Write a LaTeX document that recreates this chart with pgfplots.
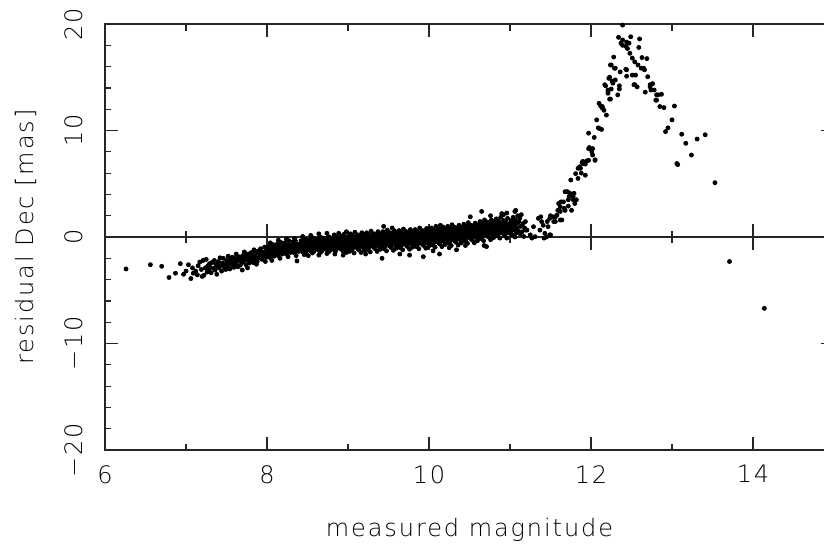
\documentclass[border=0pt]{standalone}
\usepackage{fontspec}
\setmainfont{DejaVu Sans}[UprightFont=* ExtraLight, LetterSpace=8]
\usepackage{pgfplots}
\pgfplotsset{compat=1.18}

\pgfplotsset{
  plotbase/.style={
    scale only axis, width=364.5pt, height=213pt,
    xmin=6, xmax=15, ymin=-20, ymax=20,
  },
}

\begin{document}
\begin{tikzpicture}
% zero line with ticks crossing it
\begin{axis}[plotbase,
  axis y line=none, axis x line=middle,
  x axis line style={-, line width=0.6pt, black!85},
  xtick={8,10,12,14}, minor xtick={7,9,11,13},
  xticklabels={}, ytick=\empty,
  tick align=center, major tick length=13pt, minor tick length=6pt,
  tick style={line width=0.6pt, black!85},
]
\addplot[draw=none] coordinates {(6,0) (15,0)};
\end{axis}

\begin{axis}[plotbase,
  xtick={6,8,10,12,14}, minor xtick={7,9,11,13},
  xticklabels={6,8,10,12,14},
  ytick={-20,-10,0,10,20}, minor ytick={-18,-16,...,18},
  yticklabels={−20,−10,0,10,20},
  /pgf/number format/assume math mode=true,
  tick align=inside, major tick length=6.5pt, minor tick length=3.25pt,
  tick style={line width=0.6pt, black!85},
  axis line style={line width=0.8pt, black!85},
  every tick label/.append style={font=\fontsize{12}{14}\selectfont, text=black},
  xticklabel style={anchor=north, inner sep=0pt}, xticklabel shift=7.5pt,
  yticklabel style={rotate=90, anchor=south, inner sep=0pt}, yticklabel shift=11pt,
  xlabel={measured magnitude}, ylabel={residual Dec [mas]},
  every axis x label/.style={at={(axis description cs:0.5,-0.2042)}, anchor=base,
    inner sep=0pt, font=\fontsize{12}{14}\selectfont, text=black},
  every axis y label/.style={at={(axis description cs:-0.0982,0.5)}, rotate=90,
    anchor=base, inner sep=0pt, font=\fontsize{12}{14}\selectfont, text=black},
]
\addplot[only marks, mark=*, mark size=1.0pt, mark options={fill=black, draw=none}] coordinates {
(6.26,-3.0) (6.56,-2.6) (6.70,-2.75) (6.79,-3.8) (6.87,-3.4) (6.93,-2.5) (6.97,-3.5)
(7.00,-3.2) (7.03,-2.6) (7.06,-3.9) (7.08,-2.9) (7.09,-3.4)
(7.12,-3.2) (7.14,-3.55) (7.15,-2.7) (7.17,-2.35) (7.19,-3.05) (7.20,-3.7)
(7.21,-2.2) (7.22,-3.6) (7.24,-2.9) (7.25,-2.1) (7.26,-3.3) (7.27,-2.7) (7.28,-3.1) (7.29,-2.5)
(7.30,-2.85) (7.31,-3.35) (7.32,-2.4) (7.34,-2.95) (7.35,-2.2) (7.36,-3.1) (7.37,-2.6) (7.38,-3.5) (7.39,-2.75)
(7.40,-2.3) (7.41,-2.9) (7.42,-1.95) (7.43,-2.65) (7.44,-3.2) (7.45,-2.45) (7.46,-2.0) (7.47,-2.8) (7.48,-2.55) (7.49,-3.05)
(7.50,-2.2) (7.51,-2.7) (7.52,-1.8) (7.53,-2.45) (7.54,-3.0) (7.55,-2.1) (7.56,-2.6) (7.57,-1.9) (7.58,-2.35) (7.59,-2.85) (7.595,-2.5)
(7.60,-2.0) (7.61,-2.55) (7.62,-1.6) (7.63,-2.3) (7.64,-2.8) (7.65,-1.85) (7.66,-2.15) (7.67,-2.65) (7.68,-1.95) (7.69,-2.4) (7.695,-3.1) (7.62,-2.1)
(7.70,-1.75) (7.71,-2.3) (7.72,-1.4) (7.73,-2.05) (7.74,-2.6) (7.75,-1.6) (7.76,-2.15) (7.77,-1.85) (7.78,-2.45) (7.79,-1.55) (7.72,-2.0) (7.76,-2.9) (7.74,-1.9)
(7.80,-2.1) (7.81,-1.45) (7.82,-1.9) (7.83,-2.4) (7.84,-1.2) (7.85,-1.75) (7.86,-2.2) (7.87,-2.56) (7.88,-1.5) (7.89,-1.95) (7.81,-1.7) (7.83,-2.05) (7.86,-1.35) (7.88,-2.3)
(7.90,-1.3) (7.91,-1.85) (7.92,-1.1) (7.93,-1.6) (7.94,-2.1) (7.95,-1.45) (7.96,-1.75) (7.97,-0.95) (7.98,-2.3) (7.99,-1.55) (7.91,-1.25) (7.93,-2.0) (7.95,-1.65) (7.97,-1.4) (7.99,-1.9)
(8.00,-1.2) (8.01,-1.7) (8.02,-0.9) (8.03,-1.45) (8.04,-1.95) (8.05,-1.1) (8.06,-1.55) (8.07,-0.7) (8.08,-1.35) (8.09,-1.8) (8.01,-1.3) (8.03,-1.0) (8.05,-1.65) (8.06,-2.2) (8.08,-1.15) (8.02,-1.5) (8.04,-0.55) (8.09,-1.4)
(8.10,-1.0) (8.11,-1.5) (8.12,-0.7) (8.13,-1.25) (8.14,-1.75) (8.15,-0.9) (8.16,-1.35) (8.17,-0.5) (8.18,-1.1) (8.19,-1.6) (8.11,-1.15) (8.13,-0.85) (8.15,-1.45) (8.16,-2.0) (8.18,-0.95) (8.12,-1.3) (8.14,-0.3) (8.19,-1.2) (8.17,-1.05)
(8.20,-0.85) (8.21,-1.3) (8.22,-0.55) (8.23,-1.1) (8.24,-1.6) (8.25,-0.75) (8.26,-1.2) (8.27,-0.35) (8.28,-0.95) (8.29,-1.45) (8.21,-1.0) (8.23,-0.7) (8.25,-1.3) (8.26,-1.85) (8.28,-0.8) (8.22,-1.15) (8.24,-0.2) (8.29,-1.05) (8.27,-0.9) (8.20,-1.5)
(8.30,-0.75) (8.31,-1.2) (8.32,-0.45) (8.33,-1.0) (8.34,-1.5) (8.35,-0.65) (8.36,-1.1) (8.37,-2.25) (8.38,-0.85) (8.39,-1.35) (8.31,-0.9) (8.33,-0.6) (8.35,-1.2) (8.36,-1.75) (8.38,-0.7) (8.32,-1.05) (8.34,-0.15) (8.39,-0.95) (8.37,-0.8) (8.30,-1.4) (8.35,-0.35)
(8.40,-0.65) (8.41,-1.1) (8.42,-0.35) (8.43,-0.9) (8.44,-1.4) (8.45,-0.55) (8.46,-1.0) (8.47,-0.2) (8.48,-0.75) (8.49,-1.25) (8.41,-0.8) (8.43,-0.5) (8.45,-1.1) (8.46,-1.65) (8.48,-0.6) (8.42,-0.95) (8.44,0.05) (8.49,-0.85) (8.47,-0.7) (8.40,-1.3) (8.45,-0.25) (8.43,-1.2) (8.48,-1.5)
(8.50,-0.55) (8.51,-1.75) (8.52,-0.25) (8.53,-0.8) (8.54,-1.3) (8.55,-0.45) (8.56,-0.9) (8.57,-0.1) (8.58,-0.65) (8.59,-1.15) (8.51,-0.7) (8.53,-0.4) (8.55,-1.0) (8.56,-1.5) (8.58,-0.5) (8.52,-0.85) (8.54,0.15) (8.59,-0.75) (8.57,-0.6) (8.50,-1.2) (8.55,-0.15) (8.53,-1.1) (8.58,-1.35) (8.56,-0.3) (8.51,-0.95)
(8.60,-0.5) (8.61,-0.95) (8.62,-0.2) (8.63,-0.75) (8.64,-1.25) (8.65,-0.4) (8.66,-0.85) (8.67,-0.05) (8.68,-0.6) (8.69,-1.1) (8.61,-0.65) (8.63,-0.35) (8.65,-0.95) (8.66,-1.45) (8.68,-0.45) (8.62,-0.8) (8.64,0.3) (8.69,-0.7) (8.67,-0.55) (8.60,-1.15) (8.65,-0.1) (8.63,-1.05) (8.68,-1.3) (8.66,-0.25) (8.61,-0.9) (8.64,-1.7)
(8.70,-0.45) (8.71,-0.9) (8.72,-0.15) (8.73,-0.7) (8.74,-1.2) (8.75,-0.35) (8.76,-0.8) (8.77,0.0) (8.78,-0.55) (8.79,-1.05) (8.71,-0.6) (8.73,-0.3) (8.75,-0.9) (8.76,-1.4) (8.78,-0.4) (8.72,-0.75) (8.74,0.35) (8.79,-0.65) (8.77,-0.5) (8.70,-1.1) (8.75,-0.05) (8.73,-1.0) (8.78,-1.25) (8.76,-0.2) (8.71,-0.85) (8.74,-1.55) (8.77,-0.95)
(8.80,-0.35) (8.805,-0.95) (8.81,-0.1) (8.815,-0.7) (8.82,-1.15) (8.825,-0.5) (8.83,0.2) (8.835,-0.8) (8.84,-0.45) (8.845,-1.35) (8.85,-0.6) (8.855,-0.2) (8.86,-0.9) (8.865,-0.05) (8.87,-0.55) (8.875,-1.05) (8.88,-0.3) (8.885,0.35) (8.89,-0.75) (8.895,-0.4) (8.812,-0.6) (8.838,-1.6) (8.852,-0.25) (8.868,-0.85) (8.882,-0.65) (8.898,-1.0) (8.826,-0.15) (8.848,0.05)
(8.90,-0.7) (8.905,-0.2) (8.91,-1.1) (8.915,-0.45) (8.92,0.1) (8.925,-0.85) (8.93,-0.35) (8.935,-1.3) (8.94,-1.7) (8.945,-0.6) (8.95,0.25) (8.955,-0.95) (8.96,-0.3) (8.965,-0.65) (8.97,-1.15) (8.975,-0.05) (8.98,0.5) (8.985,-0.5) (8.99,-0.8) (8.995,-0.25) (8.908,-0.55) (8.922,-1.0) (8.938,-0.1) (8.952,-0.75) (8.968,-0.4) (8.982,-1.45) (8.992,0.0) (8.918,-0.6)
(9.00,-0.3) (9.005,-0.85) (9.01,-0.05) (9.015,-0.6) (9.02,-1.1) (9.025,-0.4) (9.03,0.3) (9.035,-0.75) (9.04,-0.2) (9.045,-1.25) (9.05,-0.55) (9.055,0.1) (9.06,-0.9) (9.065,-0.35) (9.07,-0.65) (9.075,-1.5) (9.08,-0.15) (9.085,0.45) (9.09,-0.7) (9.095,-0.45) (9.012,-0.95) (9.028,-0.25) (9.042,-0.6) (9.058,-1.05) (9.072,0.0) (9.088,-0.8) (9.098,-0.3) (9.032,-0.5) (9.064,-0.1) (9.018,-1.35)
(9.10,-0.6) (9.105,-0.15) (9.11,-1.0) (9.115,-0.4) (9.12,0.2) (9.125,-0.7) (9.13,-0.25) (9.135,-1.2) (9.14,-0.5) (9.145,0.05) (9.15,-0.85) (9.155,-0.3) (9.16,-1.45) (9.165,-0.55) (9.17,0.4) (9.175,-0.75) (9.18,-0.1) (9.185,-0.95) (9.19,-0.35) (9.195,-0.65) (9.108,0.1) (9.122,-1.1) (9.138,-0.45) (9.152,-0.2) (9.168,-0.8) (9.182,0.25) (9.198,-1.25) (9.132,-0.6) (9.158,-0.05) (9.178,-0.5)
(9.20,-0.2) (9.205,-0.75) (9.21,0.1) (9.215,-0.5) (9.22,-1.05) (9.225,-0.3) (9.23,0.4) (9.235,-0.65) (9.24,-0.1) (9.245,-1.2) (9.25,-0.45) (9.255,0.2) (9.26,-0.85) (9.265,-0.25) (9.27,-0.55) (9.275,-1.4) (9.28,-0.05) (9.285,0.55) (9.29,-0.6) (9.295,-0.35) (9.212,-0.9) (9.228,-0.15) (9.242,-0.5) (9.258,-1.0) (9.272,0.05) (9.288,-0.7) (9.298,-0.2) (9.232,-0.4) (9.264,0.0) (9.218,-1.6)
(9.30,-0.5) (9.305,-0.05) (9.31,-0.9) (9.315,-0.3) (9.32,0.3) (9.325,-0.6) (9.33,-0.15) (9.335,-1.1) (9.34,-0.4) (9.345,0.15) (9.35,-0.75) (9.355,-0.2) (9.36,-1.35) (9.365,-0.45) (9.37,0.5) (9.375,-0.65) (9.38,0.0) (9.385,-0.85) (9.39,-0.25) (9.395,-0.55) (9.308,0.2) (9.322,-1.0) (9.338,-0.35) (9.352,-0.1) (9.368,-0.7) (9.382,0.35) (9.398,-1.15) (9.332,-0.5) (9.358,0.05) (9.378,-0.4)
(9.40,-0.1) (9.405,-0.65) (9.41,0.2) (9.415,-0.4) (9.42,-0.95) (9.425,-0.2) (9.43,0.5) (9.435,-0.55) (9.44,0.0) (9.445,-1.1) (9.45,-0.35) (9.455,0.3) (9.46,-0.75) (9.465,-0.15) (9.47,-0.45) (9.475,-1.3) (9.48,0.05) (9.485,0.65) (9.49,-0.5) (9.495,-0.25) (9.412,-0.8) (9.428,-0.05) (9.442,-0.4) (9.458,-0.9) (9.472,0.15) (9.488,-0.6) (9.498,-0.1) (9.432,-0.3) (9.464,0.1) (9.44,1.0) (9.42,-2.0)
(9.50,-0.4) (9.505,0.05) (9.51,-0.8) (9.515,-0.2) (9.52,0.4) (9.525,-0.5) (9.53,-0.05) (9.535,-1.0) (9.54,-0.3) (9.545,0.25) (9.55,-0.65) (9.555,-0.1) (9.56,-1.25) (9.565,-0.35) (9.57,0.6) (9.575,-0.55) (9.58,0.1) (9.585,-0.75) (9.59,-0.15) (9.595,-0.45) (9.508,0.3) (9.522,-0.9) (9.538,-0.25) (9.552,0.0) (9.568,-0.6) (9.582,0.45) (9.598,-1.05) (9.532,-0.4) (9.558,0.15) (9.578,-0.3) (9.545,0.85)
(9.60,0.0) (9.605,-0.55) (9.61,0.3) (9.615,-0.3) (9.62,-0.85) (9.625,-0.1) (9.63,0.6) (9.635,-0.45) (9.64,0.1) (9.645,-1.0) (9.65,-0.25) (9.655,0.4) (9.66,-0.65) (9.665,-0.05) (9.67,-0.35) (9.675,-1.2) (9.68,0.15) (9.685,0.75) (9.69,-0.4) (9.695,-0.15) (9.612,-0.7) (9.628,0.05) (9.642,-0.3) (9.658,-0.8) (9.672,0.25) (9.688,-0.5) (9.698,0.0) (9.632,-0.2) (9.664,0.2) (9.64,-1.6)
(9.70,-0.3) (9.705,0.15) (9.71,-0.7) (9.715,-0.1) (9.72,0.5) (9.725,-0.4) (9.73,0.05) (9.735,-0.9) (9.74,-0.2) (9.745,0.35) (9.75,-0.55) (9.755,0.0) (9.76,-1.15) (9.765,-0.25) (9.77,0.7) (9.775,-0.45) (9.78,0.2) (9.785,-0.65) (9.79,-0.05) (9.795,-0.35) (9.708,0.4) (9.722,-0.8) (9.738,-0.15) (9.752,0.1) (9.768,-0.5) (9.782,0.55) (9.798,-0.95) (9.732,-0.3) (9.758,0.25) (9.778,-0.2) (9.76,-1.7)
(9.80,0.1) (9.805,-0.45) (9.81,0.4) (9.815,-0.2) (9.82,-0.75) (9.825,0.0) (9.83,0.7) (9.835,-0.35) (9.84,0.2) (9.845,-0.9) (9.85,-0.15) (9.855,0.5) (9.86,-0.55) (9.865,0.05) (9.87,-0.25) (9.875,-1.1) (9.88,0.25) (9.885,0.85) (9.89,-0.3) (9.895,-0.05) (9.812,-0.6) (9.828,0.15) (9.842,-0.2) (9.858,-0.7) (9.872,0.35) (9.888,-0.4) (9.898,0.1) (9.832,-0.1) (9.864,0.3)
(9.90,-0.2) (9.905,0.25) (9.91,-0.6) (9.915,0.0) (9.92,0.6) (9.925,-0.3) (9.93,0.15) (9.935,-0.8) (9.94,-0.1) (9.945,0.45) (9.95,-0.45) (9.955,0.1) (9.96,-1.05) (9.965,-0.15) (9.97,0.8) (9.975,-0.35) (9.98,0.3) (9.985,-0.55) (9.99,0.05) (9.995,-0.25) (9.908,0.5) (9.922,-0.7) (9.938,-0.05) (9.952,0.2) (9.968,-0.4) (9.982,0.65) (9.998,-0.85) (9.932,-0.2) (9.958,0.35) (9.978,-0.1) (9.93,-1.85)
(10.00,0.25) (10.005,-0.3) (10.01,0.55) (10.015,-0.05) (10.02,-0.6) (10.025,0.15) (10.03,0.85) (10.035,-0.2) (10.04,0.35) (10.045,-0.75) (10.05,0.0) (10.055,0.65) (10.06,-0.4) (10.065,0.2) (10.07,-0.1) (10.075,-0.95) (10.08,0.4) (10.085,1.0) (10.09,-0.15) (10.095,0.1) (10.012,-0.45) (10.028,0.3) (10.042,-0.05) (10.058,-0.55) (10.072,0.5) (10.088,-0.25) (10.098,0.25) (10.032,0.05) (10.064,0.45) (10.05,-1.3)
(10.10,-0.05) (10.105,0.4) (10.11,-0.45) (10.115,0.15) (10.12,0.75) (10.125,-0.15) (10.13,0.3) (10.135,-0.65) (10.14,0.05) (10.145,0.6) (10.15,-0.3) (10.155,0.25) (10.16,-0.9) (10.165,0.0) (10.17,0.95) (10.175,-0.2) (10.18,0.45) (10.185,-0.4) (10.19,0.2) (10.195,-0.1) (10.108,0.65) (10.122,-0.55) (10.138,0.1) (10.152,0.35) (10.168,-0.25) (10.182,0.8) (10.198,-0.7) (10.132,-0.05) (10.158,0.5) (10.178,0.05) (10.13,-1.6) (10.14,1.1)
(10.20,0.4) (10.205,-0.15) (10.21,0.7) (10.215,0.1) (10.22,-0.45) (10.225,0.3) (10.23,1.0) (10.235,-0.05) (10.24,0.5) (10.245,-0.6) (10.25,0.15) (10.255,0.8) (10.26,-0.25) (10.265,0.35) (10.27,0.05) (10.275,-0.8) (10.28,0.55) (10.285,1.15) (10.29,0.0) (10.295,0.25) (10.212,-0.3) (10.228,0.45) (10.242,0.1) (10.258,-0.4) (10.272,0.65) (10.288,-0.1) (10.298,0.4) (10.232,0.2) (10.264,0.6) (10.25,-1.0)
(10.30,0.1) (10.305,0.55) (10.31,-0.3) (10.315,0.3) (10.32,0.9) (10.325,0.0) (10.33,0.45) (10.335,-0.5) (10.34,0.2) (10.345,0.75) (10.35,-0.15) (10.355,0.4) (10.36,-0.75) (10.365,0.15) (10.37,1.1) (10.375,-0.05) (10.38,0.6) (10.385,-0.25) (10.39,0.35) (10.395,0.05) (10.308,0.8) (10.322,-0.4) (10.338,0.25) (10.352,0.5) (10.368,-0.1) (10.382,0.95) (10.398,-0.55) (10.332,0.1) (10.358,0.65) (10.378,0.2) (10.34,-1.2)
(10.40,0.6) (10.405,0.05) (10.41,0.9) (10.415,0.3) (10.42,-0.25) (10.425,0.5) (10.43,1.2) (10.435,0.15) (10.44,0.7) (10.445,-0.4) (10.45,0.35) (10.455,1.0) (10.46,-0.05) (10.465,0.55) (10.47,0.25) (10.475,-0.6) (10.48,0.75) (10.485,1.35) (10.49,0.2) (10.495,0.45) (10.412,-0.1) (10.428,0.65) (10.442,0.3) (10.458,-0.2) (10.472,0.85) (10.488,0.1) (10.498,0.6) (10.432,0.4) (10.464,0.8) (10.45,-0.8)
(10.50,0.3) (10.505,0.75) (10.51,-0.1) (10.515,0.5) (10.52,1.1) (10.525,0.2) (10.53,0.65) (10.535,-0.3) (10.54,0.4) (10.545,0.95) (10.55,0.05) (10.555,0.6) (10.56,-0.55) (10.565,0.35) (10.57,1.3) (10.575,0.15) (10.58,0.8) (10.585,-0.05) (10.59,0.55) (10.595,0.25) (10.508,1.0) (10.522,-0.2) (10.538,0.45) (10.552,0.7) (10.568,0.1) (10.582,1.15) (10.598,-0.35) (10.532,0.3) (10.558,0.85) (10.578,0.4) (10.51,1.9)
(10.60,0.85) (10.605,0.3) (10.61,1.15) (10.615,0.55) (10.62,0.0) (10.625,0.75) (10.63,1.45) (10.635,0.4) (10.64,0.95) (10.645,-0.15) (10.65,0.6) (10.655,1.25) (10.66,0.2) (10.665,0.8) (10.67,0.5) (10.675,-0.35) (10.68,1.0) (10.685,1.6) (10.69,0.45) (10.695,0.7) (10.612,0.15) (10.628,0.9) (10.642,0.55) (10.658,0.05) (10.672,1.1) (10.688,0.35) (10.698,0.85) (10.632,0.65) (10.664,1.05) (10.65,2.4) (10.68,-0.8)
(10.70,0.6) (10.705,1.05) (10.71,0.2) (10.715,0.8) (10.72,1.4) (10.725,0.5) (10.73,0.95) (10.735,0.0) (10.74,0.7) (10.745,1.25) (10.75,0.35) (10.755,0.9) (10.76,-0.25) (10.765,0.65) (10.77,1.6) (10.775,0.45) (10.78,1.1) (10.785,0.25) (10.79,0.85) (10.795,0.55) (10.708,1.3) (10.722,0.1) (10.738,0.75) (10.752,1.0) (10.768,0.4) (10.782,1.45) (10.798,-0.05) (10.732,0.6) (10.758,1.15) (10.71,-0.9) (10.76,2.0)
(10.80,1.1) (10.805,0.55) (10.81,1.4) (10.815,0.8) (10.82,0.25) (10.825,1.0) (10.83,1.7) (10.835,0.65) (10.84,1.2) (10.845,0.1) (10.85,0.85) (10.855,1.5) (10.86,0.45) (10.865,1.05) (10.87,0.75) (10.875,-0.1) (10.88,1.25) (10.885,1.85) (10.89,0.7) (10.895,0.95) (10.812,0.4) (10.828,1.15) (10.842,0.8) (10.858,0.3) (10.872,1.35) (10.888,0.6) (10.898,2.2)
(10.90,0.75) (10.905,1.2) (10.91,0.35) (10.915,0.95) (10.92,1.55) (10.925,0.6) (10.93,1.1) (10.935,0.15) (10.94,0.85) (10.945,1.4) (10.95,0.5) (10.955,1.05) (10.96,-0.1) (10.965,0.8) (10.97,1.75) (10.975,0.6) (10.98,1.25) (10.985,0.4) (10.99,1.0) (10.995,0.7) (10.92,2.1) (10.96,2.25) (10.94,0.25)
(11.00,1.2) (11.01,0.5) (11.015,1.55) (11.02,0.85) (11.03,0.2) (11.035,1.35) (11.04,1.85) (11.05,0.65) (11.055,1.05) (11.06,0.0) (11.065,1.6) (11.07,2.5) (11.075,0.9) (11.08,0.4) (11.09,1.3) (11.095,2.0) (11.06,2.4) (11.085,0.75)
(11.10,0.6) (11.11,1.45) (11.12,1.75) (11.125,0.3) (11.13,1.0) (11.14,2.1) (11.15,0.5) (11.16,1.25) (11.17,0.05) (11.18,0.85) (11.19,1.45) (11.195,0.65)
(11.21,0.65) (11.25,0.2) (11.27,-0.1) (11.29,0.97) (11.31,0.03) (11.35,1.75) (11.37,0.65) (11.39,1.45) (11.41,1.1) (11.43,0.35) (11.45,0.0) (11.49,0.2) (11.47,0.97) (11.49,1.75)
(11.42,-0.1) (11.50,0.2) (11.38,1.9) (11.46,1.45) (11.54,1.45) (11.62,1.6) (11.50,2.0) (11.56,1.9) (11.53,1.9) (11.56,1.45) (11.58,2.05)
(11.59,2.5) (11.60,3.15) (11.62,2.4) (11.62,2.85) (11.64,1.6) (11.66,3.3) (11.63,3.3) (11.67,2.7) (11.68,2.5) (11.70,4.25) (11.68,4.25) (11.71,4.25) (11.72,3.5) (11.72,2.9) (11.73,3.8)
(11.74,4.1) (11.76,2.5) (11.78,3.8) (11.80,3.15) (11.82,3.5) (11.79,4.1) (11.78,3.5) (11.75,5.35) (11.84,5.5) (11.88,6.0) (11.86,6.6) (11.81,5.95) (11.84,6.45) (11.87,6.45)
(11.90,6.9) (11.93,5.8) (11.97,7.2) (11.95,7.15) (11.89,7.0) (11.93,6.85) (11.90,7.1) (12.01,8.0) (12.05,7.2) (11.98,8.4) (12.02,8.3) (11.97,8.3) (12.02,7.7) (12.05,7.25)
(11.97,9.75) (12.04,9.35) (12.07,11.0) (12.10,10.2) (12.13,10.1) (12.09,10.25) (12.10,12.55) (12.12,12.3) (12.14,12.1) (12.16,11.9) (12.19,11.45) (12.14,12.25)
(12.17,14.3) (12.18,14.2) (12.21,13.8) (12.25,13.9) (12.21,13.5) (12.21,13.65) (12.24,12.95) (12.23,12.95) (12.22,14.9) (12.23,15.0) (12.26,14.65) (12.27,14.45) (12.30,14.75) (12.35,13.9) (12.33,13.35) (12.35,14.2)
(12.24,16.15) (12.25,16.15) (12.29,15.85) (12.30,15.85) (12.28,16.9) (12.36,15.5) (12.43,15.75) (12.44,15.1) (12.44,15.7)
(12.39,19.9) (12.34,18.75) (12.39,18.5) (12.44,18.3) (12.49,18.8) (12.47,18.2) (12.37,18.2) (12.39,18.0) (12.43,17.9) (12.45,17.7) (12.60,18.6) (12.59,17.8)
(12.48,17.25) (12.51,16.8) (12.54,16.45) (12.63,16.85) (12.69,16.75) (12.58,16.15) (12.62,15.85) (12.65,15.85) (12.66,15.7) (12.51,15.2) (12.55,15.2) (12.70,15.05)
(12.57,14.1) (12.53,14.3) (12.54,14.3) (12.76,14.4) (12.73,14.1) (12.73,14.3) (12.78,13.8) (12.74,13.8) (12.67,13.6) (12.87,13.4) (12.83,13.35) (12.81,13.35)
(12.81,12.85) (12.80,12.85) (12.85,12.25) (12.90,12.15) (13.03,12.3) (13.00,11.0) (12.95,10.25) (12.92,9.9) (13.12,9.65) (13.41,9.6) (13.31,9.2) (13.17,8.8)
(13.24,7.7) (13.07,6.8) (13.06,6.9) (13.53,5.1) (13.71,-2.3) (14.14,-6.7)
};
\end{axis}
\pgfresetboundingbox
\path[use as bounding box] (-52.5pt,-46.5pt) rectangle (359.5pt,225pt);
\end{tikzpicture}
\end{document}
